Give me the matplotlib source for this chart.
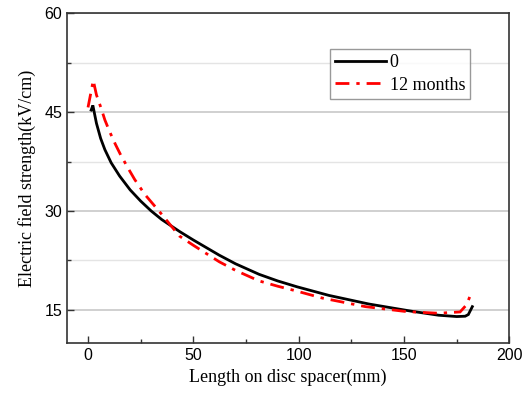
import matplotlib
matplotlib.use("Agg")
import matplotlib.pyplot as plt
from matplotlib.ticker import MultipleLocator

# Dane (mm, kV/cm)
x_0 = [1.5, 2.3, 4.0, 6.0, 8.0, 11.0, 15.0, 20.0, 25.0, 30.0, 35.0, 43.4,
       50.0, 62.3, 70.0, 81.2, 90.0, 99.3, 114.4, 133.3, 153.7, 166.4,
       175.0, 179.0, 180.5, 182.4]
y_0 = [45.3, 46.0, 43.3, 41.0, 39.3, 37.3, 35.3, 33.2, 31.5, 30.0, 28.7, 26.9,
       25.6, 23.3, 22.0, 20.4, 19.4, 18.5, 17.2, 15.9, 14.8, 14.2,
       14.0, 14.05, 14.3, 15.5]

x_12 = [0.0, 2.5, 4.0, 6.3, 8.0, 10.3, 13.0, 15.5, 19.0, 22.1, 27.0, 34.7,
        43.4, 50.0, 62.3, 70.0, 81.2, 90.0, 98.6, 111.2, 131.7, 151.2,
        166.4, 176.6, 179.7, 181.8]
y_12 = [45.7, 49.8, 47.6, 45.5, 43.8, 42.0, 40.1, 38.5, 36.5, 34.8, 32.5, 29.6,
        26.2, 24.8, 22.3, 21.0, 19.4, 18.6, 17.9, 16.8, 15.5, 14.75,
        14.5, 14.7, 15.8, 17.5]

labels = ["0", "12 months"]
x_ticks = [0, 50, 100, 150, 200]
y_ticks = [15, 30, 45, 60]

fig = plt.figure(figsize=(5.23, 3.96), dpi=100)
ax = fig.add_axes([0.128, 0.134, 0.846, 0.833])

ax.plot(x_0, y_0, color="black", lw=2.0, label=labels[0], zorder=3,
        solid_joinstyle="miter")
ax.plot(x_12, y_12, color="red", lw=2.0, dashes=(5, 2.5, 1.2, 2.5),
        dash_joinstyle="miter", label=labels[1], zorder=3)

ax.set_xlim(-10, 200)
ax.set_ylim(10, 60)
ax.set_xticks(x_ticks)
ax.set_yticks(y_ticks)
ax.xaxis.set_minor_locator(MultipleLocator(25))
ax.yaxis.set_minor_locator(MultipleLocator(7.5))

# tylko poziome linie siatki
ax.yaxis.grid(True, which="major", color="#c8c8c8", lw=1.2, zorder=0)
ax.yaxis.grid(True, which="minor", color="#e4e4e4", lw=1.0, zorder=0)
ax.set_axisbelow(True)

ax.tick_params(which="both", direction="in", top=False, right=False,
               labelsize=11.5, color="#333333")
ax.tick_params(which="major", length=5, width=1)
ax.tick_params(which="minor", length=3, width=1)
for lab in ax.get_xticklabels() + ax.get_yticklabels():
    lab.set_fontfamily("Liberation Sans")

for s in ax.spines.values():
    s.set_color("#333333")
    s.set_linewidth(1.2)

ax.set_xlabel("Length on disc spacer(mm)", fontfamily="Liberation Serif",
              fontsize=13, labelpad=4)
ax.set_ylabel("Electric field strength(kV/cm)", fontfamily="Liberation Serif",
              fontsize=13, labelpad=6)

leg = ax.legend(loc="upper right", bbox_to_anchor=(0.912, 0.892),
                prop={"family": "Liberation Serif", "size": 13},
                frameon=True, fancybox=False, edgecolor="#808080",
                handlelength=2.8, handletextpad=0.2, borderpad=0.3,
                labelspacing=0.3, borderaxespad=0)
leg.get_frame().set_linewidth(1.0)

fig.savefig("out.png", dpi=100)
